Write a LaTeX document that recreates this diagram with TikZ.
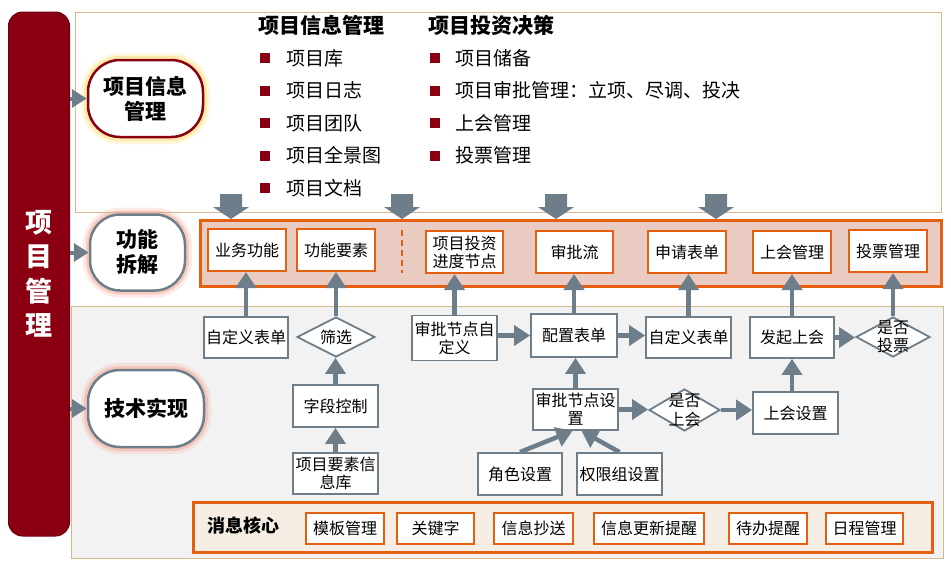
\documentclass[tikz,border=0pt]{standalone}
\usepackage{fontspec}
\setmainfont{Noto Sans CJK SC}
\usetikzlibrary{arrows.meta,shapes.geometric,calc}
\definecolor{dred}{HTML}{8A0012}
\definecolor{slate}{HTML}{6D7E8A}
\definecolor{orangeC}{HTML}{E46010}
\definecolor{panelO}{HTML}{EACBC2}
\definecolor{grayP}{HTML}{F2F2F2}
\definecolor{tanC}{HTML}{D5B98A}
\definecolor{msgF}{HTML}{F6EEE4}
\definecolor{glowP}{HTML}{F2A593}
\definecolor{glowY}{HTML}{FFE38A}
\begin{document}
\begin{tikzpicture}[x=1pt,y=-1pt,
  box/.style={draw=slate,line width=1.8pt,fill=white,inner sep=0pt,align=center,font=\fontsize{16}{18}\selectfont},
  obox/.style={draw=orangeC,line width=2pt,fill=white,inner sep=0pt,align=center,font=\fontsize{16}{18}\selectfont},
  dia/.style={diamond,draw=slate,line width=1.8pt,fill=white,inner sep=0pt},
  dtext/.style={align=center,font=\fontsize{16}{18.5}\selectfont,inner sep=0pt},
  conn/.style={draw=slate,line width=4.5pt,-{Triangle[width=20pt,length=16pt]}},
  sconn/.style={draw=slate,line width=4pt,-{Triangle[width=18pt,length=15pt]}},
  rnode/.style={draw=slate,line width=2.5pt,fill=white,rounded corners=32pt,align=center,font=\fontsize{21}{25}\selectfont\bfseries,inner sep=0pt},
  glowpink/.style={preaction={draw=glowP,line width=14pt,opacity=.22},preaction={draw=glowP,line width=8pt,opacity=.45}},
  glowyel/.style={preaction={draw=glowY,line width=14pt,opacity=.3},preaction={draw=glowY,line width=8pt,opacity=.6}},
  bul/.style={fill=dred,inner sep=0pt,minimum size=10pt},
  ltext/.style={anchor=west,inner sep=0pt,font=\fontsize{19}{21}\selectfont},
  htext/.style={anchor=west,inner sep=0pt,font=\fontsize{21}{23}\selectfont\bfseries}
]
\useasboundingbox (0,0) rectangle (951,568);
% background panels
\draw[tanC,line width=1pt,fill=white] (75,12) rectangle (941,212);
\draw[tanC,line width=1pt,fill=grayP] (71,306) rectangle (943,558);
% block arrows
\foreach \bx in {231,402,556,716}{
  \fill[slate] (\bx-11,194) -- (\bx+11,194) -- (\bx+11,207) -- (\bx+18,207) -- (\bx,219) -- (\bx-18,207) -- (\bx-11,207) -- cycle;
}
% orange panel
\draw[orangeC,line width=3pt,fill=panelO] (200,220) rectangle (941,286);
\draw[orangeC,line width=2.5pt,dash pattern=on 6pt off 4pt] (402,230) -- (402,273);
% message panel
\draw[orangeC,line width=3pt,fill=msgF] (193,502) rectangle (932,552);

% left bar
\node[fill=dred,draw=dred!80!black,line width=1pt,rounded corners=14pt,minimum width=61pt,minimum height=524pt,inner sep=0pt,
  align=center,text=white,font=\fontsize{27}{34.5}\selectfont\bfseries] (bar) at (39,274) {项\\目\\管\\理};

% round nodes
\node[rnode,draw=dred,glowyel,minimum width=115pt,minimum height=77pt] (n1) at (145.5,98.5) {项目信息\\管理};
\node[rnode,glowpink,minimum width=95pt,minimum height=76pt,rounded corners=30pt] (n2) at (137.5,252.5) {功能\\拆解};
\node[rnode,glowpink,minimum width=116pt,minimum height=77pt] (n3) at (146,408.5) {技术实现};
\draw[sconn] (bar.east |- n1.west) -- (n1.west);
\draw[sconn] (bar.east |- n2.west) -- (n2.west);
\draw[sconn] (bar.east |- n3.west) -- (n3.west);

% top text
\node[htext] (h1) at (258,25) {项目信息管理};
\node[htext] (h2) at (428,25) {项目投资决策};
\foreach \t [count=\i] in {项目库,项目日志,项目团队,项目全景图,项目文档}{
  \node[bul] (lb\i) at (265,{58+32.5*(\i-1)}) {};
  \node[ltext] (lt\i) at (286,{58+32.5*(\i-1)}) {\t};
}
\foreach \t [count=\i] in {项目储备,项目审批管理：立项、尽调、投决,上会管理,投票管理}{
  \node[bul] (rb\i) at (435,{58+32.5*(\i-1)}) {};
  \node[ltext] (rt\i) at (455,{58+32.5*(\i-1)}) {\t};
}

% orange row
\node[obox,minimum width=78pt,minimum height=42pt] (yw) at (247,250) {业务功能};
\node[obox,minimum width=78pt,minimum height=42pt] (gy) at (336,250) {功能要素};
\node[obox,minimum width=77pt,minimum height=42pt] (jd) at (464.5,252) {项目投资\\进度节点};
\node[obox,minimum width=77pt,minimum height=42pt] (sp) at (574.5,252) {审批流};
\node[obox,minimum width=78pt,minimum height=42pt] (sq) at (687,252) {申请表单};
\node[obox,minimum width=78pt,minimum height=42pt] (shm) at (792,252) {上会管理};
\node[obox,minimum width=78pt,minimum height=42pt] (tp) at (888,251) {投票管理};

% lower nodes
\node[box,minimum width=84pt,minimum height=41pt] (zd1) at (246,337.5) {自定义表单};
\node[dia,minimum width=78pt,minimum height=40pt] (sx) at (336,337) {};
\node[dtext] (sxt) at (sx) {筛选};
\node[box,minimum width=85pt,minimum height=42pt] (zdk) at (335.5,406) {字段控制};
\node[box,minimum width=85pt,minimum height=41pt] (xmk) at (335.5,473.5) {项目要素信\\息库};
\node[box,minimum width=85pt,minimum height=45pt] (spz) at (454.5,338) {审批节点自\\定义};
\node[box,minimum width=86pt,minimum height=43pt] (pz) at (574,335.5) {配置表单};
\node[box,minimum width=85pt,minimum height=41pt] (zd2) at (688.5,337.5) {自定义表单};
\node[box,minimum width=84pt,minimum height=41pt] (fq) at (792,337.5) {发起上会};
\node[dia,minimum width=74pt,minimum height=40pt] (sftp) at (893,337) {};
\node[dtext] (sftpt) at (sftp) {是否\\投票};
\node[box,minimum width=85pt,minimum height=41pt] (spsz) at (575.5,409.5) {审批节点设\\置};
\node[dia,minimum width=71pt,minimum height=42pt] (sfsh) at (684.5,410) {};
\node[dtext] (sfsht) at (sfsh) {是否\\上会};
\node[box,minimum width=85pt,minimum height=42pt] (shsz) at (795.5,413) {上会设置};
\node[box,minimum width=84pt,minimum height=42pt] (js) at (520,474) {角色设置};
\node[box,minimum width=85pt,minimum height=42pt] (qx) at (619.5,474) {权限组设置};

% message items
\node[anchor=west,inner sep=0pt,font=\fontsize{18}{20}\selectfont\bfseries] (xx) at (207,526) {消息核心};
\node[obox,minimum width=78pt,minimum height=31pt] (m1) at (345,528.5) {模板管理};
\node[obox,minimum width=77pt,minimum height=31pt] (m2) at (435.5,528.5) {关键字};
\node[obox,minimum width=79pt,minimum height=31pt] (m3) at (533.5,528.5) {信息抄送};
\node[obox,minimum width=110pt,minimum height=31pt] (m4) at (649,528.5) {信息更新提醒};
\node[obox,minimum width=78pt,minimum height=31pt] (m5) at (768,528.5) {待办提醒};
\node[obox,minimum width=77pt,minimum height=31pt] (m6) at (864.5,528.5) {日程管理};

% connectors
\draw[conn] (zd1.north) -- (zd1.north |- yw.south);
\draw[conn] (sx.north) -- (sx.north |- gy.south);
\draw[conn] (zdk.north) -- (zdk.north |- sx.south);
\draw[conn] (xmk.north) -- (xmk.north |- zdk.south);
\draw[conn] (spz.north) -- (spz.north |- jd.south);
\draw[conn] (spz.east |- pz.west) -- (pz.west);
\draw[conn] (pz.north) -- (pz.north |- sp.south);
\draw[conn] (spsz.north) -- (spsz.north |- pz.south);
\draw[conn] (js.north) -- ($(spsz.south)+(-3,0)$);
\draw[conn] (qx.north) -- ($(spsz.south)+(6,0)$);
\draw[conn] (pz.east) -- (pz.east -| zd2.west);
\draw[conn] (zd2.north) -- (zd2.north |- sq.south);
\draw[conn] (spsz.east) -- (spsz.east -| sfsh.west);
\draw[conn] (sfsh.east) -- (sfsh.east -| shsz.west);
\draw[conn] (shsz.north -| fq.south) -- (fq.south);
\draw[conn] (fq.north) -- (fq.north |- shm.south);
\draw[conn] (fq.east) -- (fq.east -| sftp.west);
\draw[conn] (sftp.north) -- (sftp.north |- tp.south);
\end{tikzpicture}
\end{document}
